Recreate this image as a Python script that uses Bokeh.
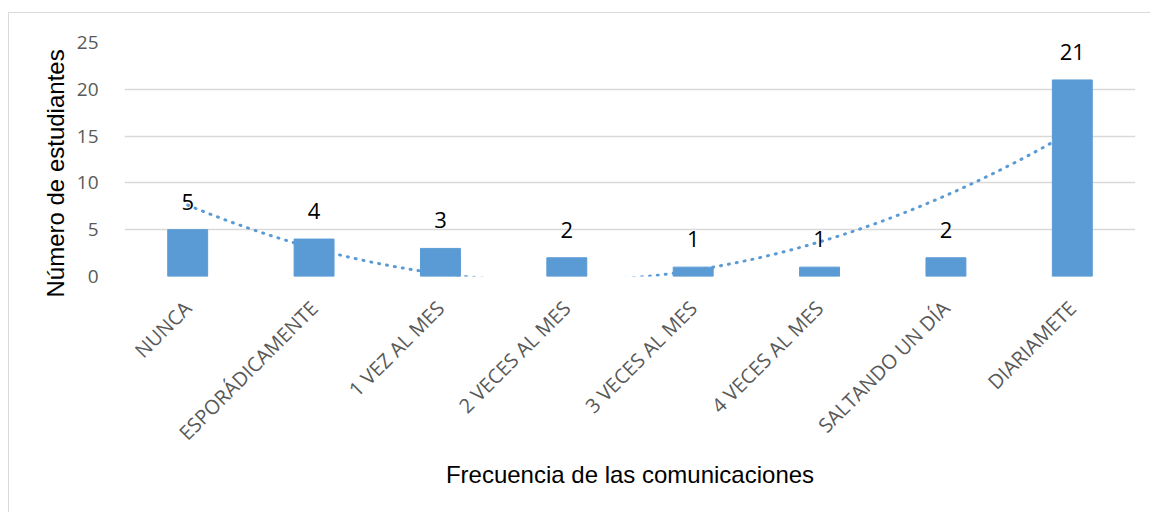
import math
import numpy as np
from bokeh.plotting import figure
from bokeh.models import Range1d, FixedTicker, Title
from bokeh.embed import file_html
from bokeh.resources import INLINE
from bokeh.core.properties import value

categories = ["NUNCA", "ESPORÁDICAMENTE", "1 VEZ AL MES", "2 VECES AL MES",
              "3 VECES AL MES", "4 VECES AL MES", "SALTANDO UN DÍA", "DIARIAMETE"]
counts = [5, 4, 3, 2, 1, 1, 2, 21]
y_ticks = [0, 5, 10, 15, 20, 25]

BAR = "#5b9bd5"
GRID = "#d9d9d9"
TICK = "#595959"

# Excel-style polynomial (order 2) trendline fitted to the counts
xi = np.arange(1, len(counts) + 1)
coef = np.polyfit(xi, counts, 2)
trend_x = np.linspace(1, len(counts), 300)
trend_y = np.polyval(coef, trend_x)
trend_xs = trend_x - 0.5  # synthetic categorical coordinates (centre of first factor = 0.5)

p = figure(x_range=categories, y_range=Range1d(0, 25), width=1142, height=500,
           output_backend="svg", toolbar_location=None,
           min_border_left=115, min_border_right=16, min_border_top=29, min_border_bottom=237)
p.styles = {"margin-left": "8px", "margin-top": "12px",
            "border-top": "1px solid #d9d9d9", "border-left": "1px solid #d9d9d9"}
p.outline_line_color = None

p.line(trend_xs, trend_y, line_color=BAR, line_width=3, line_dash="1 7", line_cap="round")
p.vbar(x=categories, top=counts, width=0.316, fill_color=BAR, line_color=BAR)
p.text(x=categories, y=counts, text=[str(c) for c in counts], text_align="center",
       text_baseline="alphabetic", y_offset=-28, text_font=value("Open Sans"),
       text_font_size="22px", text_color="black")

p.xgrid.grid_line_color = None
p.ygrid.ticker = FixedTicker(ticks=y_ticks)
p.ygrid.grid_line_color = GRID
p.ygrid.grid_line_width = 1.5

p.yaxis.ticker = FixedTicker(ticks=y_ticks)
p.yaxis.axis_line_color = None
p.yaxis.major_tick_line_color = None
p.yaxis.minor_tick_line_color = None
p.yaxis.major_label_text_font = "Open Sans"
p.yaxis.major_label_text_font_size = "19px"
p.yaxis.major_label_text_color = TICK
p.yaxis.major_label_standoff = 20

p.xaxis.axis_line_color = None
p.xaxis.major_tick_line_color = None
p.xaxis.minor_tick_line_color = None
p.xaxis.major_label_orientation = math.pi / 4
p.xaxis.major_label_text_font = "Open Sans"
p.xaxis.major_label_text_font_size = "20px"
p.xaxis.major_label_text_color = TICK
p.xaxis.major_label_standoff = 22
p.xaxis.axis_label = "Frecuencia de las comunicaciones"
p.xaxis.axis_label_text_font = "Liberation Sans"
p.xaxis.axis_label_text_font_size = "24px"
p.xaxis.axis_label_text_font_style = "normal"
p.xaxis.axis_label_text_color = "black"
p.xaxis.axis_label_standoff = 3

ytitle = Title(text="Número de estudiantes", align="left", offset=-21,
               text_font="Liberation Sans", text_font_size="24px",
               text_font_style="normal", text_color="black")
p.add_layout(ytitle, "left")

open("out.html", "w").write(file_html(p, INLINE))
